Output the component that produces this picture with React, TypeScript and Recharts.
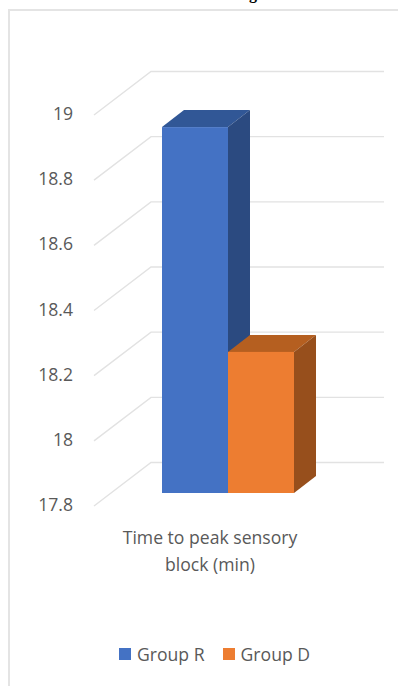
import React from "react";
import { BarChart, Bar, XAxis, YAxis, CartesianGrid, Legend } from "recharts";

const categories = ["Time to peak sensory block (min)"];
const categoryLines = ["Time to peak sensory", "block (min)"];
const groupR = [18.923];
const groupD = [18.233];
const valueTicks = [17.8, 18, 18.2, 18.4, 18.6, 18.8, 19];
const rows = categories.map((name, i) => ({ name, groupR: groupR[i], groupD: groupD[i] }));

const FONT = "'Open Sans', 'Noto Sans', sans-serif";
const TEXT = "#595959";
const GRID = "#e2e2e2";
const FONT_SIZE = 17.6;

// Depth of the cuboids and of the chart's floor/back wall.
const BAR_DX = 22;
const BAR_DY = -17;
const FRONT_X = 94;
const BACK_X = 151;
const GRID_END = 384;

const cuboid = (front: string, top: string, side: string) => (p: any) => {
  const { x, y, width, height } = p;
  const r = x + width;
  const b = y + height;
  return (
    <g>
      <polygon points={`${x},${y} ${x + BAR_DX},${y + BAR_DY} ${r + BAR_DX},${y + BAR_DY} ${r},${y}`} fill={top} />
      <polygon points={`${r},${y} ${r + BAR_DX},${y + BAR_DY} ${r + BAR_DX},${b + BAR_DY} ${r},${b}`} fill={side} />
      <rect x={x} y={y} width={width} height={height} fill={front} />
    </g>
  );
};

// One value level: a slanted line on the side wall and a straight one on the back wall.
const wallLine = (p: any) => {
  const y = p.y1;
  return (
    <g key={`wall-${y}`}>
      <polyline
        points={`${FRONT_X},${y + 13} ${BACK_X},${y - 30.5} ${GRID_END},${y - 30.5}`}
        fill="none"
        stroke={GRID}
        strokeWidth={1.4}
      />
    </g>
  );
};

const ValueTick = (p: any) => (
  <text x={73} y={p.y + 18} textAnchor="end" fontSize={FONT_SIZE} fontFamily={FONT} fill={TEXT}>
    {p.payload.value}
  </text>
);

const CategoryTick = (p: any) => (
  <text textAnchor="middle" fontSize={FONT_SIZE} fontFamily={FONT} fill={TEXT}>
    {categoryLines.map((line, i) => (
      <tspan key={line} x={p.x - 18} y={544 + i * 27}>
        {line}
      </tspan>
    ))}
  </text>
);

const GroupLegend = ({ payload }: any) => (
  <div style={{ display: "flex", fontFamily: FONT, fontSize: FONT_SIZE, color: TEXT, lineHeight: "20px" }}>
    {(payload || []).map((item: any) => (
      <div key={item.value} style={{ display: "flex", alignItems: "center", marginRight: 18 }}>
        <span style={{ width: 12, height: 12, background: item.color, marginRight: 6 }} />
        {item.value}
      </div>
    ))}
  </div>
);

export default function App() {
  return (
    <div style={{ position: "absolute", left: 0, top: 0, width: 398, height: 686, overflow: "hidden", background: "#fff" }}>
      <div
        style={{
          position: "absolute",
          left: 8,
          top: 9,
          width: 400,
          height: 700,
          borderTop: "2px solid #e4e4e4",
          borderLeft: "2px solid #e4e4e4",
        }}
      />
      <div
        style={{
          position: "absolute",
          left: 249,
          top: -15,
          fontFamily: "'Liberation Serif', serif",
          fontWeight: 700,
          fontSize: 16,
          lineHeight: "18px",
          color: "#000",
        }}
      >
        g
      </div>
      <div style={{ position: "absolute", left: 0, top: 0 }}>
        <BarChart
          width={398}
          height={686}
          data={rows}
          margin={{ top: 102, right: 36, bottom: 0, left: 0 }}
          barGap={0}
          barSize={66}
        >
          <CartesianGrid vertical={false} horizontal={wallLine} />
          <XAxis dataKey="name" height={173} axisLine={false} tickLine={false} tick={CategoryTick} interval={0} />
          <YAxis
            width={94}
            type="number"
            domain={[17.8, 19]}
            ticks={valueTicks}
            interval={0}
            allowDataOverflow
            axisLine={false}
            tickLine={false}
            tick={ValueTick}
          />
          <Bar dataKey="groupR" name="Group R" fill="#4472c4" isAnimationActive={false} shape={cuboid("#4472c4", "#315796", "#2b4a80")} />
          <Bar dataKey="groupD" name="Group D" fill="#ed7d31" isAnimationActive={false} shape={cuboid("#ed7d31", "#b55f20", "#974f1c")} />
          <Legend
            content={GroupLegend}
            itemSorter={null}
            wrapperStyle={{ position: "absolute", left: 119, top: 644, width: 270, height: 20, bottom: "auto" }}
          />
        </BarChart>
      </div>
    </div>
  );
}
